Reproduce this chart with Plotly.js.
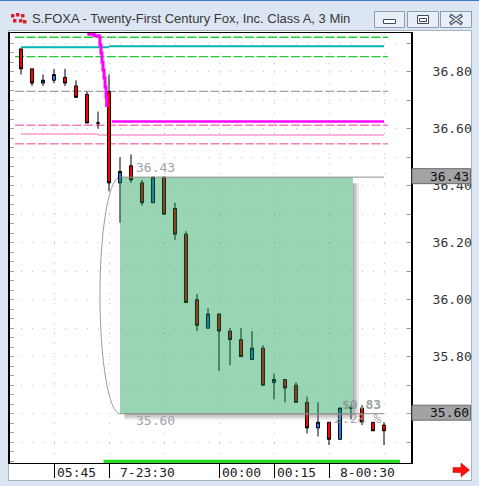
<!DOCTYPE html>
<html>
<head>
<meta charset="utf-8">
<script src="https://cdn.plot.ly/plotly-3.0.1.min.js"></script>
<style>
  html, body { margin: 0; padding: 0; background: #dce6f2; }
  #chart { width: 479px; height: 486px; }
</style>
</head>
<body>
<div id="chart"></div>
<script>
// S.FOXA, 3-minute bars (bar number along the x axis)
const openP  = [36.88, 36.81, 36.76, 36.77, 36.78, 36.75, 36.72, 36.62, 36.73, 36.41, 36.47, 36.41, 36.34, 36.43, 36.32, 36.23, 36.00,
                35.90, 35.95, 35.89, 35.86, 35.79, 35.83, 35.71, 35.72, 35.70, 35.64, 35.55, 35.57, 35.51, 35.62, 35.62, 35.57, 35.56];
const highP  = [36.88, 36.81, 36.79, 36.81, 36.81, 36.77, 36.73, 36.66, 36.79, 36.50, 36.51, 36.42, 36.43, 36.43, 36.34, 36.24, 36.02,
                35.97, 35.95, 35.90, 35.90, 35.89, 35.84, 35.74, 35.72, 35.71, 35.66, 35.64, 35.57, 35.62, 35.63, 35.63, 35.57, 35.57];
const lowP   = [36.79, 36.75, 36.75, 36.76, 36.75, 36.71, 36.62, 36.60, 36.38, 36.27, 36.41, 36.33, 36.34, 36.30, 36.21, 35.99, 35.89,
                35.90, 35.75, 35.77, 35.80, 35.79, 35.70, 35.65, 35.64, 35.64, 35.53, 35.52, 35.49, 35.51, 35.58, 35.56, 35.54, 35.49];
const closeP = [36.81, 36.76, 36.77, 36.79, 36.76, 36.71, 36.62, 36.62, 36.41, 36.45, 36.42, 36.34, 36.43, 36.30, 36.23, 35.99, 35.91,
                35.95, 35.89, 35.86, 35.80, 35.83, 35.70, 35.72, 35.69, 35.64, 35.55, 35.57, 35.51, 35.62, 35.62, 35.57, 35.54, 35.54];
const barNo = openP.map((_, i) => i);

// time axis labels and the bars they mark
const tickBars   = [3, 8, 18, 23, 28];
const tickLabels = ['05:45', '7-23:30', '00:00', '00:15', '8-00:30'];

// price axis labels (35.60 sits under its price marker)
const priceTicks  = [35.60, 35.80, 36.00, 36.20, 36.40, 36.60, 36.80];
const priceLabels = ['', '35.80', '36.00', '36.20', '36.40', '36.60', '36.80'];

// horizontal level lines drawn across the chart (dashed)
const dashedLevels = [36.921, 36.853, 36.731, 36.612, 36.547];
const dashedColors = ['#1fcc3a', '#1fcc3a', '#a0a0a0', '#f47fbb', '#f47fbb'];

// stepped solid levels: [from bar, to bar, price]
const tealSteps  = [[0, 8, 36.886], [8, 33, 36.889]];
const pinkSteps  = [[0, 7, 36.581], [7, 33, 36.578]];
const magentaLevel = [8.25, 33, 36.625];

// magenta trailing line as it falls into the level
const magentaBars   = [6.03, 6.66, 7.09, 7.18, 7.27, 7.36, 7.45, 7.55, 7.64, 7.73, 7.79];
const magentaPrices = [36.931, 36.926, 36.922, 36.894, 36.866, 36.834, 36.806, 36.778, 36.746, 36.711, 36.676];

// measured move box
const moveFromBar = 9, moveToBar = 30.18;
const moveHigh = 36.43, moveLow = 35.60;
const moveEndBar = 33;
const lastPriceMarks = [36.43, 35.60];

// session bar along the bottom
const sessionBars = [7.5, 34.45];

const W = 479, H = 486;
const L = 10, R = 411, T = 33, B = 463;
const px = x => (x - L) / (R - L);
const py = y => (B - y) / (B - T);
const pxPerBar = 11, pxPerDollar = 285;

const mono = 'DejaVu Sans Mono, monospace';

const candles = {
  type: 'candlestick',
  x: barNo, open: openP, high: highP, low: lowP, close: closeP,
  increasing: { line: { color: '#000', width: 1 }, fillcolor: '#1f7fea' },
  decreasing: { line: { color: '#000', width: 1 }, fillcolor: '#ff0000' },
  whiskerwidth: 0,
  hoverinfo: 'skip',
  showlegend: false
};

const magentaTrail = {
  type: 'scatter', mode: 'lines',
  x: magentaBars, y: magentaPrices,
  line: { color: '#ff00ff', width: 3, shape: 'hv' },
  hoverinfo: 'skip', showlegend: false
};

const shapes = [];
const annotations = [];

// window chrome
shapes.push({ type: 'rect', xref: 'paper', yref: 'paper', layer: 'below',
  x0: px(-2), x1: px(482), y0: py(1), y1: py(-2), fillcolor: '#3c79bd', line: { width: 0 } });
shapes.push({ type: 'rect', xref: 'paper', yref: 'paper', layer: 'below',
  x0: px(8.5), x1: px(471.5), y0: py(480.5), y1: py(30.5), fillcolor: '#ffffff', line: { color: '#a6b3c4', width: 1 } });

// title bar buttons
[[374.5, 404.5], [407.5, 438.5], [440.5, 471.5]].forEach(([a, b]) => {
  shapes.push({ type: 'rect', xref: 'paper', yref: 'paper',
    x0: px(a), x1: px(b), y0: py(27.5), y1: py(11.5), fillcolor: '#e8eef6', line: { color: '#8c9db5', width: 1 } });
});
shapes.push({ type: 'rect', xref: 'paper', yref: 'paper',
  x0: px(383.5), x1: px(395.5), y0: py(23.5), y1: py(19.5), fillcolor: '#ffffff', line: { color: '#3f4b5c', width: 1 } });
shapes.push({ type: 'rect', xref: 'paper', yref: 'paper',
  x0: px(417.5), x1: px(428.5), y0: py(23.5), y1: py(15.5), fillcolor: '#ffffff', line: { color: '#3f4b5c', width: 1 } });
shapes.push({ type: 'rect', xref: 'paper', yref: 'paper',
  x0: px(419.5), x1: px(426.5), y0: py(21.5), y1: py(18.5), fillcolor: '#ffffff', line: { color: '#3f4b5c', width: 1 } });
[[450, 15, 462, 24], [450, 24, 462, 15]].forEach(([a, b, c, d]) => {
  shapes.push({ type: 'line', xref: 'paper', yref: 'paper', x0: px(a), y0: py(b), x1: px(c), y1: py(d),
    line: { color: '#46536a', width: 3.5 } });
});
[[450, 15, 462, 24], [450, 24, 462, 15]].forEach(([a, b, c, d]) => {
  shapes.push({ type: 'line', xref: 'paper', yref: 'paper', x0: px(a + 1), y0: py(b + (b < d ? 0.8 : -0.8)), x1: px(c - 1), y1: py(d + (b < d ? -0.8 : 0.8)),
    line: { color: '#ffffff', width: 1.2 } });
});

// app icon
[[11, 14], [16, 13], [21, 14], [13, 19], [19, 19], [23, 20]].forEach(([x, y]) => {
  shapes.push({ type: 'rect', xref: 'paper', yref: 'paper',
    x0: px(x), x1: px(x + 3.5), y0: py(y + 3.5), y1: py(y), fillcolor: '#d8222c', line: { width: 0 } });
});

// red scroll arrow, bottom right
const arrow = [[453, 467.5], [461, 467.5], [461, 463], [469.5, 470], [461, 477], [461, 472.5], [453, 472.5]];
shapes.push({ type: 'path', xref: 'paper', yref: 'paper',
  path: 'M ' + arrow.map(([x, y]) => px(x) + ',' + py(y)).join(' L ') + ' Z',
  fillcolor: '#ff1010', line: { color: '#c00000', width: 0.5 } });

// dashed level lines
dashedLevels.forEach((p, i) => {
  shapes.push({ type: 'line', xref: 'x', yref: 'y', layer: 'below',
    x0: -0.55, x1: 33.36, y0: p, y1: p, line: { color: dashedColors[i], width: 1.4, dash: '9px,2.5px' } });
});
tealSteps.forEach(([a, b, p]) => shapes.push({ type: 'line', xref: 'x', yref: 'y', layer: 'below',
  x0: a, x1: b, y0: p, y1: p, line: { color: '#05b3b8', width: 2 } }));
pinkSteps.forEach(([a, b, p]) => shapes.push({ type: 'line', xref: 'x', yref: 'y', layer: 'below',
  x0: a, x1: b, y0: p, y1: p, line: { color: '#ffb3d9', width: 2 } }));
shapes.push({ type: 'line', xref: 'x', yref: 'y', layer: 'below',
  x0: magentaLevel[0], x1: magentaLevel[1], y0: magentaLevel[2], y1: magentaLevel[2], line: { color: '#ff00ff', width: 2.6 } });

// arc joining the move's high and low
const rx = 20 / pxPerBar, ry = (moveHigh - moveLow) / 2, cy = (moveHigh + moveLow) / 2, k = 0.5523;
shapes.push({ type: 'path', xref: 'x', yref: 'y', layer: 'below',
  path: `M ${moveFromBar},${moveHigh} C ${moveFromBar - k * rx},${moveHigh} ${moveFromBar - rx},${cy + k * ry} ${moveFromBar - rx},${cy} ` +
        `C ${moveFromBar - rx},${cy - k * ry} ${moveFromBar - k * rx},${moveLow} ${moveFromBar},${moveLow}`,
  line: { color: '#9a9a9a', width: 1 } });

// move box with its drop shadow (right and bottom edges)
const sx = 1.5 / pxPerBar, sy = 1.5 / pxPerDollar;
[0.55, 0.4, 0.26, 0.14].forEach((a, i) => {
  shapes.push({ type: 'rect', xref: 'x', yref: 'y', layer: 'above',
    x0: moveToBar + i * sx, x1: moveToBar + (i + 1) * sx, y0: moveLow - i * sy, y1: moveHigh - 4 * sy,
    fillcolor: `rgba(110,110,110,${a})`, line: { width: 0 } });
  shapes.push({ type: 'rect', xref: 'x', yref: 'y', layer: 'above',
    x0: moveFromBar + 3 * sx, x1: moveToBar + i * sx, y0: moveLow - (i + 1) * sy, y1: moveLow - i * sy,
    fillcolor: `rgba(110,110,110,${a})`, line: { width: 0 } });
});
shapes.push({ type: 'rect', xref: 'x', yref: 'y', layer: 'above',
  x0: moveFromBar, x1: moveToBar, y0: moveLow, y1: moveHigh,
  fillcolor: 'rgba(0,150,67,0.4)', line: { width: 0 } });
[moveHigh, moveLow].forEach(p => shapes.push({ type: 'line', xref: 'x', yref: 'y', layer: 'above',
  x0: moveFromBar, x1: moveEndBar, y0: p, y1: p, line: { color: '#8c8c8c', width: 1 } }));

// session bar
shapes.push({ type: 'rect', xref: 'x', yref: 'paper', layer: 'above',
  x0: sessionBars[0], x1: sessionBars[1], y0: py(463), y1: py(459.8), fillcolor: '#22dd22', line: { width: 0 } });

// price markers on the axis
lastPriceMarks.forEach(p => {
  shapes.push({ type: 'rect', xref: 'paper', yref: 'y', layer: 'above',
    x0: px(412), x1: px(470.5), y0: p - 6.5 / pxPerDollar, y1: p + 8.5 / pxPerDollar,
    fillcolor: '#a3a3a6', line: { color: '#6e6e70', width: 1 } });
  annotations.push({ xref: 'paper', yref: 'y', x: px(428), y: p, yshift: 1, xanchor: 'left', yanchor: 'middle',
    text: p.toFixed(2), showarrow: false, font: { family: mono, size: 13, color: '#111' } });
});

// move labels
const moveDiff = moveHigh - moveLow;
annotations.push({ xref: 'x', yref: 'y', x: moveFromBar, y: moveHigh, xshift: 14, yshift: 10, xanchor: 'left', yanchor: 'middle',
  text: moveHigh.toFixed(2), showarrow: false, font: { family: mono, size: 13, color: '#a2a2aa' } });
annotations.push({ xref: 'x', yref: 'y', x: moveFromBar, y: moveLow, xshift: 14, yshift: -7, xanchor: 'left', yanchor: 'middle',
  text: moveLow.toFixed(2), showarrow: false, font: { family: mono, size: 13, color: '#a2a2aa' } });
annotations.push({ xref: 'x', yref: 'y', x: moveEndBar, y: moveLow, xshift: -1, yshift: 9, xanchor: 'right', yanchor: 'middle',
  text: '<b>$' + moveDiff.toFixed(2) + '</b>', showarrow: false, font: { family: mono, size: 13, color: 'rgba(140,150,146,0.9)' } });
annotations.push({ xref: 'x', yref: 'y', x: moveEndBar, y: moveLow, xshift: -1, yshift: -5, xanchor: 'right', yanchor: 'middle',
  text: (moveDiff / moveHigh * 100).toFixed(2) + ' %', showarrow: false, font: { family: mono, size: 13, color: 'rgba(150,150,150,0.9)' } });

// time labels sit just right of their separator
tickBars.forEach((b, i) => {
  annotations.push({ xref: 'x', yref: 'paper', x: b, y: 0, xanchor: 'left', yanchor: 'top',
    xshift: tickLabels[i].includes('-') ? 9 : 1, yshift: 0,
    text: tickLabels[i], showarrow: false, font: { family: mono, size: 13, color: '#222' } });
});

// window title
annotations.push({ xref: 'paper', yref: 'paper', x: px(30), y: py(19), xanchor: 'left', yanchor: 'middle',
  text: 'S.FOXA - Twenty-First Century Fox, Inc. Class A, 3 Min', showarrow: false,
  font: { family: 'Liberation Sans, Arial, sans-serif', size: 13, color: '#383838' } });

const yRange = [36.80 - (B - 71.7) / pxPerDollar, 36.80 + (71.7 - T) / pxPerDollar];

const layout = {
  width: W, height: H,
  margin: { l: L, r: W - R, t: T, b: H - B, pad: 0 },
  paper_bgcolor: '#dce6f2',
  plot_bgcolor: '#ffffff',
  showlegend: false,
  boxgap: 0.6,
  xaxis: {
    range: [(L - 21) / pxPerBar, (R - 21) / pxPerBar],
    rangeslider: { visible: false },
    tickmode: 'array', tickvals: tickBars, ticktext: tickBars.map(() => ''),
    ticks: 'outside', ticklen: 14, tickcolor: '#000', tickwidth: 1,
    showgrid: false, zeroline: false,
    showline: true, mirror: true, linecolor: '#000', linewidth: 1,
    minor: { tickmode: 'linear', tick0: 3, dtick: 5, showgrid: true, gridcolor: '#c4c4c4', griddash: '1px,9px', gridwidth: 1, ticks: '' },
    fixedrange: true
  },
  yaxis: {
    side: 'right', range: yRange,
    tickmode: 'array', tickvals: priceTicks, ticktext: priceLabels,
    ticks: 'outside', ticklen: 17, tickcolor: 'rgba(0,0,0,0)',
    tickfont: { family: mono, size: 13, color: '#333' },
    showgrid: true, gridcolor: '#c4c4c4', griddash: '1px,10px', gridwidth: 1,
    minor: { tickmode: 'linear', tick0: 35.6, dtick: 0.1, ticks: 'inside', ticklen: 4, tickcolor: '#9a9a9a', showgrid: true, gridcolor: '#c4c4c4', griddash: '1px,10px' },
    zeroline: false,
    showline: true, mirror: true, linecolor: '#000', linewidth: 2,
    fixedrange: true
  },
  yaxis2: {
    overlaying: 'y', side: 'left', anchor: 'x', range: yRange,
    tickmode: 'linear', tick0: 35.4, dtick: 1 / 30,
    ticks: 'inside', ticklen: 4, tickcolor: '#a0a0a0',
    showticklabels: false, showgrid: false, zeroline: false, showline: false, fixedrange: true
  },
  shapes, annotations
};

const leftTicks = { type: 'scatter', x: [], y: [], yaxis: 'y2', hoverinfo: 'skip', showlegend: false };

Plotly.newPlot('chart', [candles, magentaTrail, leftTicks], layout, { staticPlot: true, displayModeBar: false });
</script>
</body>
</html>
